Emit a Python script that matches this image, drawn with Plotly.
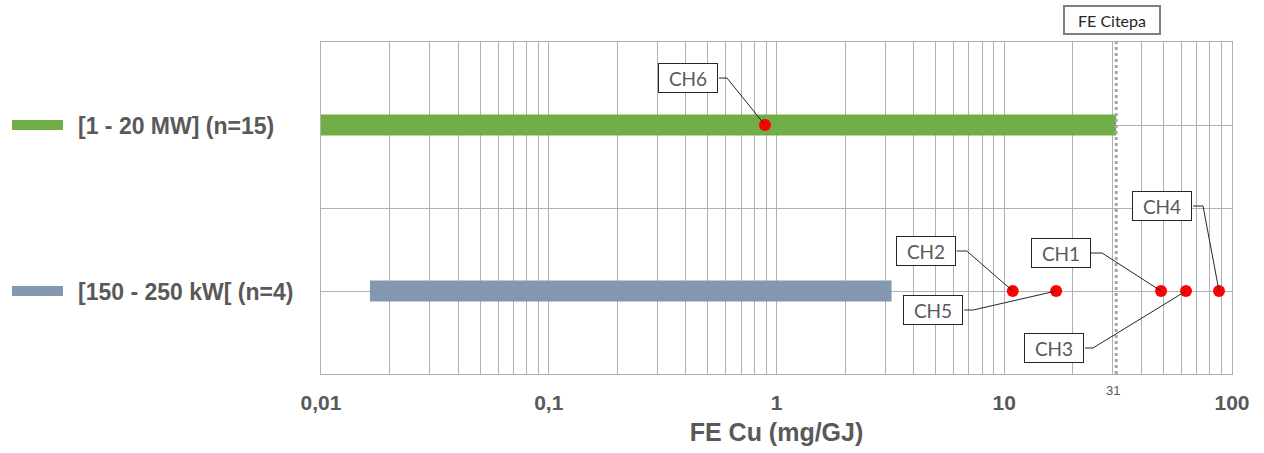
import math
import plotly.graph_objects as go

# Emission factor ranges per power class (mg/GJ)
classes = ["[1 - 20 MW] (n=15)", "[150 - 250 kW[ (n=4)"]
class_y = [3, 1]
range_low = [0.01, 0.0164]
range_high = [31, 3.2]
class_colors = ["#70ad47", "#8497b0"]

# Individual plant values
plants = ["CH6", "CH2", "CH5", "CH1", "CH3", "CH4"]
plant_values = [0.89, 10.9, 16.9, 48.8, 62.8, 87.7]
plant_class = [3, 1, 1, 1, 1, 1]

# Label placement (pixel offsets from the point: box centre, elbow, box edge)
label_shift = [(-77, 47), (-87, 40), (-123, -19), (-100, 38), (-132, -57), (-57, 85)]
leader_elbow = [(-38, 47), (-46, 40), (-83, -19), (-59, 38), (-93, -57), (-16, 85)]
leader_end = [(-46, 47), (-56, 40), (-92, -19), (-70, 38), (-101, -57), (-26, 85)]

citepa_value = 31

tick_vals = [0.01, 0.1, 1, 10, 100]
tick_text = ["0,01", "0,1", "1", "10", "100"]

GRID = "#b0b0b0"
TEXT = "#595959"
SANS = "Liberation Sans, Arial, sans-serif"
LABEL_FONT = "Lato, Open Sans, sans-serif"

fig = go.Figure()

for name, y, lo, hi, col in zip(classes, class_y, range_low, range_high, class_colors):
    fig.add_trace(go.Scatter(
        x=[lo, hi], y=[y, y], mode="lines", name=name,
        line=dict(color=col, width=21), showlegend=False, hoverinfo="skip",
    ))

fig.add_trace(go.Scatter(
    x=plant_values, y=plant_class, mode="markers", text=plants,
    marker=dict(color="#ff0000", size=12), showlegend=False,
))

# Reference value line
fig.add_shape(type="line", xref="x", yref="paper", x0=citepa_value, x1=citepa_value,
              y0=0, y1=1, line=dict(color="#a6a6a6", width=3, dash="dot"), layer="above")
fig.add_annotation(x=math.log10(citepa_value), xref="x", y=1, yref="paper",
                   yanchor="middle", yshift=22, xshift=-4,
                   text="FE Citepa", showarrow=False,
                   font=dict(family=LABEL_FONT, size=16, color="#262626"),
                   bgcolor="white", bordercolor="#7f7f7f", borderwidth=2,
                   width=90, height=22, borderpad=2)
fig.add_annotation(x=math.log10(citepa_value), xref="x", y=0, yref="paper",
                   yanchor="middle", yshift=-16, xshift=-3,
                   text=str(citepa_value), showarrow=False,
                   font=dict(family=SANS, size=13, color=TEXT))

# Plant labels with elbow leaders
for name, xv, yv, (sx, sy), (ex, ey), (bx, by) in zip(
        plants, plant_values, plant_class, label_shift, leader_elbow, leader_end):
    fig.add_shape(type="path", xref="x", yref="y",
                  xsizemode="pixel", ysizemode="pixel", xanchor=xv, yanchor=yv,
                  path=f"M0,0 L{ex},{ey} L{bx},{by}",
                  line=dict(color="#262626", width=1), layer="above")
    fig.add_annotation(x=math.log10(xv), y=yv, xref="x", yref="y", xshift=sx, yshift=sy,
                       text=name, showarrow=False,
                       font=dict(family=LABEL_FONT, size=19, color=TEXT),
                       bgcolor="white", bordercolor="#262626", borderwidth=1,
                       width=54, height=24, borderpad=2)

# Hand-drawn legend on the left
plot_w = 1264 - 321 - 32
for name, y, col in zip(classes, class_y, class_colors):
    fig.add_shape(type="rect", xref="paper", yref="y",
                  x0=(12 - 321) / plot_w, x1=(63 - 321) / plot_w,
                  ysizemode="pixel", yanchor=y, y0=-5, y1=5,
                  fillcolor=col, line=dict(width=0))
    fig.add_annotation(x=(76 - 321) / plot_w, xref="paper", y=y, yref="y",
                       xanchor="left", yshift=-1, text=f"<b>{name}</b>", showarrow=False,
                       font=dict(family=SANS, size=23, color=TEXT))

fig.update_xaxes(
    type="log", range=[-2, 2],
    tickvals=tick_vals, ticktext=tick_text,
    tickfont=dict(family=SANS, size=21, color=TEXT, weight="bold"),
    ticks="", ticklabelstandoff=10,
    showgrid=True, gridcolor=GRID, gridwidth=1,
    minor=dict(showgrid=True, gridcolor=GRID, gridwidth=1, dtick="D1", ticks=""),
    showline=True, linecolor=GRID, linewidth=1, mirror=True,
    zeroline=False,
    title=dict(text="FE Cu (mg/GJ)", standoff=10,
               font=dict(family=SANS, size=25, color=TEXT, weight="bold")),
)
fig.update_yaxes(
    range=[0, 4], tickvals=[0, 1, 2, 3, 4], showticklabels=False, ticks="",
    showgrid=True, gridcolor=GRID, gridwidth=1,
    showline=True, linecolor=GRID, linewidth=1, mirror=True, zeroline=False,
)

fig.update_layout(
    width=1264, height=453,
    margin=dict(l=321, r=32, t=42, b=79),
    paper_bgcolor="white", plot_bgcolor="white",
    showlegend=False,
)

fig.write_html("out.html")
